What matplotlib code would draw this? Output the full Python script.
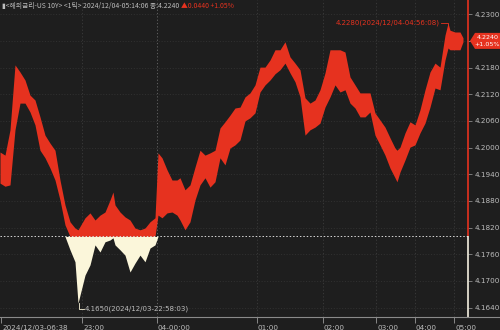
import matplotlib
matplotlib.use("Agg")
import matplotlib.pyplot as plt
import matplotlib.transforms as mtrans
import numpy as np
from matplotlib.lines import Line2D
from matplotlib.patches import Polygon

# ---- data (bar index, high/low range of each bar group) ----
bar_index = [0, 5, 10, 15, 20, 25, 30, 35, 40, 45, 50, 55, 60, 65, 70, 75, 78, 85, 90, 95,
             100, 105, 110, 113, 115, 120, 125, 130, 135, 140, 145, 150, 155, 158, 162, 167,
             172, 177, 180, 185, 190, 195, 200, 205, 210, 215, 220, 225, 230, 235, 240, 245,
             250, 255, 260, 265, 270, 275, 280, 285, 290, 295, 300, 305, 310, 315, 320, 325,
             330, 335, 340, 345, 350, 355, 360, 365, 370, 375, 380, 385, 390, 395, 397, 400,
             405, 410, 415, 420, 425, 430, 435, 440, 445, 448, 450, 455, 460, 463]
highs = [4.1990, 4.1983, 4.2040, 4.2186, 4.2170, 4.2152, 4.2118, 4.2107, 4.2069, 4.2028,
         4.2010, 4.1994, 4.1927, 4.1871, 4.1833, 4.1819, 4.1815, 4.1842, 4.1853, 4.1837,
         4.1848, 4.1855, 4.1882, 4.1900, 4.1871, 4.1855, 4.1844, 4.1837, 4.1819, 4.1815,
         4.1819, 4.1833, 4.1842, 4.1988, 4.1977, 4.1950, 4.1927, 4.1927, 4.1932, 4.1905,
         4.1916, 4.1956, 4.1994, 4.1983, 4.1988, 4.1994, 4.2044, 4.2058, 4.2073, 4.2089,
         4.2091, 4.2114, 4.2123, 4.2141, 4.2181, 4.2181, 4.2197, 4.2220, 4.2220, 4.2238,
         4.2204, 4.2190, 4.2175, 4.2112, 4.2100, 4.2107, 4.2130, 4.2168, 4.2220, 4.2220,
         4.2220, 4.2215, 4.2159, 4.2141, 4.2123, 4.2123, 4.2123, 4.2078, 4.2062, 4.2046,
         4.2022, 4.1999, 4.1994, 4.2001, 4.2033, 4.2058, 4.2051, 4.2085, 4.2130, 4.2170,
         4.2190, 4.2181, 4.2253, 4.2280, 4.2264, 4.2260, 4.2260, 4.2247]
lows = [4.1920, 4.1913, 4.1916, 4.2040, 4.2100, 4.2100, 4.2080, 4.2051, 4.1994, 4.1977,
        4.1954, 4.1927, 4.1882, 4.1826, 4.1770, 4.1743, 4.1650, 4.1713, 4.1736, 4.1781,
        4.1765, 4.1788, 4.1792, 4.1797, 4.1781, 4.1770, 4.1758, 4.1720, 4.1740, 4.1758,
        4.1743, 4.1774, 4.1781, 4.1848, 4.1842, 4.1853, 4.1855, 4.1848, 4.1837, 4.1815,
        4.1833, 4.1882, 4.1916, 4.1932, 4.1911, 4.1923, 4.1977, 4.1961, 4.1999, 4.2006,
        4.2017, 4.2060, 4.2067, 4.2078, 4.2125, 4.2141, 4.2152, 4.2166, 4.2175, 4.2190,
        4.2168, 4.2148, 4.2114, 4.2028, 4.2040, 4.2046, 4.2055, 4.2091, 4.2114, 4.2141,
        4.2125, 4.2130, 4.2100, 4.2089, 4.2069, 4.2069, 4.2080, 4.2028, 4.2006, 4.1983,
        4.1954, 4.1932, 4.1923, 4.1945, 4.1972, 4.2001, 4.2006, 4.2033, 4.2055, 4.2091,
        4.2134, 4.2130, 4.2197, 4.2224, 4.2220, 4.2220, 4.2220, 4.2238]

prev_close = 4.1800
last_price = 4.2240
change_pct = "+1.05%"
high_label = "4.2280(2024/12/04-04:56:08)"
low_label = "4.1650(2024/12/03-22:58:03)"
high_point = (448, 4.2280)
low_point = (78, 4.1650)

x_tick_pos = [1, 82, 157, 257, 323, 376, 415, 454]
x_tick_labels = ["2024/12/03-06:38", "23:00", "04-00:00", "01:00", "02:00", "03:00", "04:00", "05:00"]
y_ticks = [4.1640, 4.1700, 4.1760, 4.1820, 4.1880, 4.1940, 4.2000, 4.2060, 4.2120, 4.2180, 4.2240, 4.2300]
y_tick_labels = ["4.1640", "4.1700", "4.1760", "4.1820", "4.1880", "4.1940", "4.2000", "4.2060",
                 "4.2120", "4.2180", "", "4.2300"]

header_main = "▮<해외금리-US 10Y> <1틱> 2024/12/04-05:14:06 종:4.2240 "
header_chg = "▲0.0440 +1.05%"

# ---- style ----
BG = "#1e1e1e"
RED = "#e6321f"
CREAM = "#fbf6da"
TXT = "#bdbdbd"
FONT = ["Noto Sans CJK KR", "DejaVu Sans"]
YMIN, YMAX = 4.16188, 4.2332

fig = plt.figure(figsize=(5.0, 3.3), dpi=100, facecolor=BG)
ax = fig.add_axes([0.0, 13 / 330, 468 / 500, 317 / 330], facecolor=BG)

x = np.array(bar_index, dtype=float)
hi = np.array(highs)
lo = np.array(lows)

ax.set_xlim(0, 468)
ax.set_ylim(YMIN, YMAX)

# grid
for xp in x_tick_pos[1:]:
    ax.axvline(xp, color="#6a6a6a" if xp == 157 else "#3c3c3c", lw=0.6,
               ls=(0, (1.5, 2.5)), zorder=1)
for yv in y_ticks:
    ax.axhline(yv, color="#383838", lw=0.5, ls=(0, (1.5, 2.5)), zorder=1)

# price bands: red above prev close, cream below
ax.fill_between(x, np.maximum(lo, prev_close), np.maximum(hi, prev_close),
                color=RED, lw=0, zorder=3)
ax.fill_between(x, np.minimum(lo, prev_close), np.minimum(hi, prev_close),
                color=CREAM, lw=0, zorder=3)

# baseline (previous close)
ax.axhline(prev_close, color="#d8d8d8", lw=0.7, ls=(0, (1.5, 2)), zorder=4)

# right vertical line, coloured by side of previous close
ax.vlines(468, prev_close, YMAX, color=RED, lw=1.2, clip_on=False, zorder=5)
ax.vlines(468, YMIN, prev_close, color="#f4f0e0", lw=1.2, clip_on=False, zorder=5)

for s in ax.spines.values():
    s.set_visible(False)

# ticks
ax.yaxis.tick_right()
ax.set_yticks(y_ticks)
ax.set_yticklabels(y_tick_labels)
ax.tick_params(axis="y", colors="#8a8a8a", length=3, width=0.6, pad=1.5,
               labelsize=5.2, labelcolor=TXT)
ax.set_xticks(x_tick_pos)
ax.set_xticklabels(x_tick_labels, ha="left")
ax.tick_params(axis="x", colors="#9a9a9a", length=4, width=0.6, pad=1.5,
               labelsize=5.2, labelcolor=TXT)
offset = mtrans.ScaledTranslation(1 / 100, 0, fig.dpi_scale_trans)
for lab in ax.get_xticklabels():
    lab.set_transform(lab.get_transform() + offset)

# bottom axis line across figure
fig.add_artist(Line2D([0, 1], [13 / 330, 13 / 330], color="#8a8a8a", lw=0.8))

# header text
t1 = fig.text(2 / 500, 1 - 6 / 330, header_main, color=TXT, fontsize=4.9, family=FONT,
              va="center", ha="left")
fig.canvas.draw()
bb = t1.get_window_extent()
fig.text(bb.x1 / 500, 1 - 6 / 330, header_chg, color=RED, fontsize=4.9, family=FONT,
         va="center", ha="left")

# high annotation
hx, hy = high_point
ax.plot([hx - 7, hx, hx], [hy, hy, hy - 0.0010], color=RED, lw=0.6, zorder=6)
ax.text(hx - 8, hy, high_label, color=RED, fontsize=5.0, ha="right", va="center", zorder=6)

# low annotation
lx, ly = low_point
ax.plot([lx + 1, lx + 1, lx + 6], [ly, ly - 0.0013, ly - 0.0013], color=CREAM, lw=0.6, zorder=6)
ax.text(lx + 7, ly - 0.0013, low_label, color=TXT, fontsize=5.0, ha="left", va="center", zorder=6)

# current price box
y_to_frac = lambda v: (13 + (v - YMIN) / (YMAX - YMIN) * 317) / 330
yc_f = y_to_frac(last_price)
h = 8 / 330
box = Polygon([[470 / 500, yc_f], [475 / 500, yc_f + h], [1.0, yc_f + h],
               [1.0, yc_f - h], [475 / 500, yc_f - h]], closed=True,
              transform=fig.transFigure, facecolor=RED, edgecolor="none")
fig.add_artist(box)
fig.text(487.5 / 500, yc_f + 3.6 / 330, f"{last_price:.4f}", color="white", fontsize=4.6,
         ha="center", va="center")
fig.text(487.5 / 500, yc_f - 3.8 / 330, change_pct, color="white", fontsize=4.6,
         ha="center", va="center")

fig.savefig("out.png", dpi=100, facecolor=BG)
